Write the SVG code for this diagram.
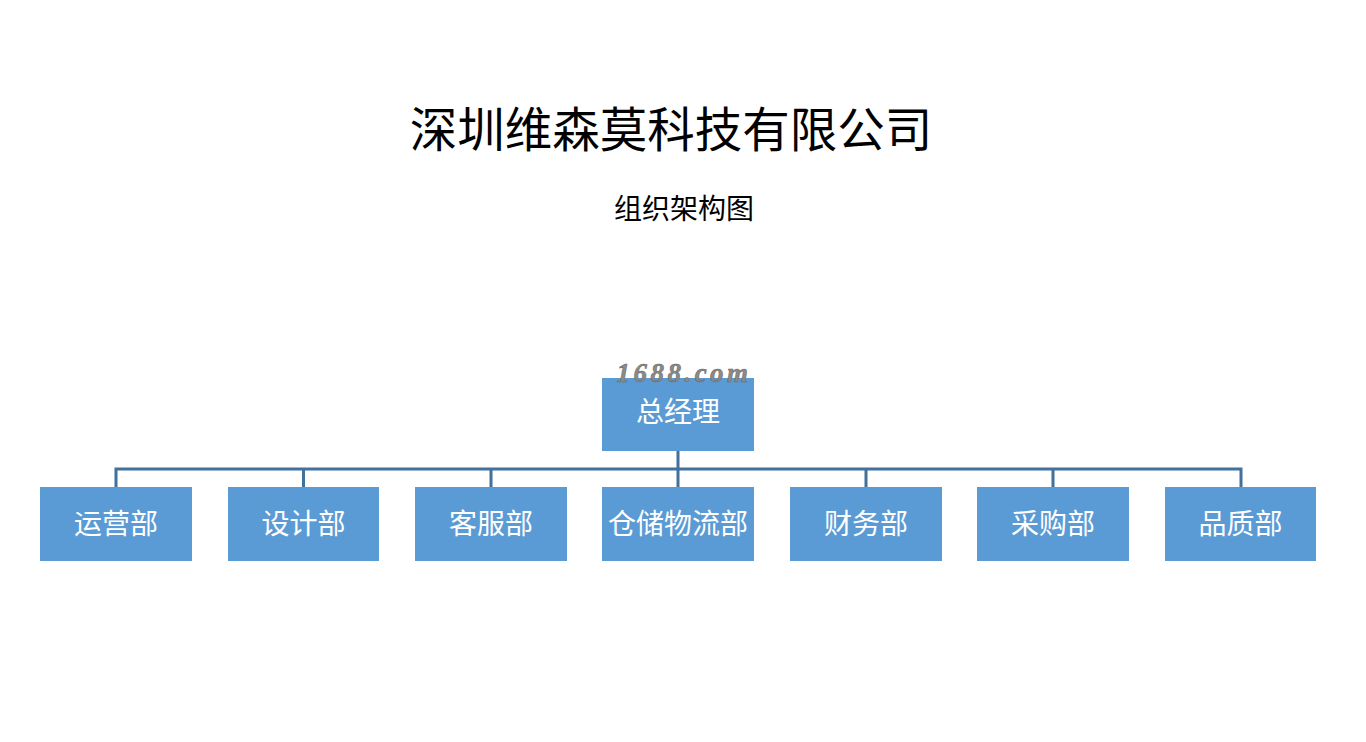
<svg xmlns="http://www.w3.org/2000/svg" width="1366" height="742" viewBox="0 0 1366 742">
<style>
.box{fill:#5B9BD5;}
.lbl{font-family:"Noto Sans CJK SC",sans-serif;font-size:28px;fill:#ffffff;text-anchor:middle;dominant-baseline:central;}
.conn{stroke:#41719C;stroke-width:3;fill:none;}
.title{font-family:"Noto Sans CJK SC",sans-serif;fill:#000;text-anchor:middle;}
</style>
<rect width="1366" height="742" fill="#ffffff"/>
<text class="title" x="671" y="147" font-size="47.5">深圳维森莫科技有限公司</text>
<text class="title" x="684" y="219" font-size="28">组织架构图</text>
<g id="connectors">
<path class="conn" d="M678 451V469M116 487V469H1241V487M303.5 469V487M491 469V487M678 469V487M866 469V487M1053 469V487"/>
</g>
<g id="n0"><rect class="box" x="602" y="378" width="152" height="73"/><text class="lbl" x="678" y="410">总经理</text></g>
<g id="n1"><rect class="box" x="40" y="487" width="152" height="74"/><text class="lbl" x="116" y="522">运营部</text></g>
<g id="n2"><rect class="box" x="228" y="487" width="151" height="74"/><text class="lbl" x="303.5" y="522">设计部</text></g>
<g id="n3"><rect class="box" x="415" y="487" width="152" height="74"/><text class="lbl" x="491" y="522">客服部</text></g>
<g id="n4"><rect class="box" x="602" y="487" width="152" height="74"/><text class="lbl" x="678" y="522">仓储物流部</text></g>
<g id="n5"><rect class="box" x="790" y="487" width="152" height="74"/><text class="lbl" x="866" y="522">财务部</text></g>
<g id="n6"><rect class="box" x="977" y="487" width="152" height="74"/><text class="lbl" x="1053" y="522">采购部</text></g>
<g id="n7"><rect class="box" x="1165" y="487" width="151" height="74"/><text class="lbl" x="1240.5" y="522">品质部</text></g>
<text x="684" y="382" font-family="Liberation Serif,serif" font-size="27" font-weight="bold" font-style="italic" fill="#8a8a8a" stroke="#666" stroke-width="0.5" text-anchor="middle" letter-spacing="3.5">1688.com</text>
</svg>
